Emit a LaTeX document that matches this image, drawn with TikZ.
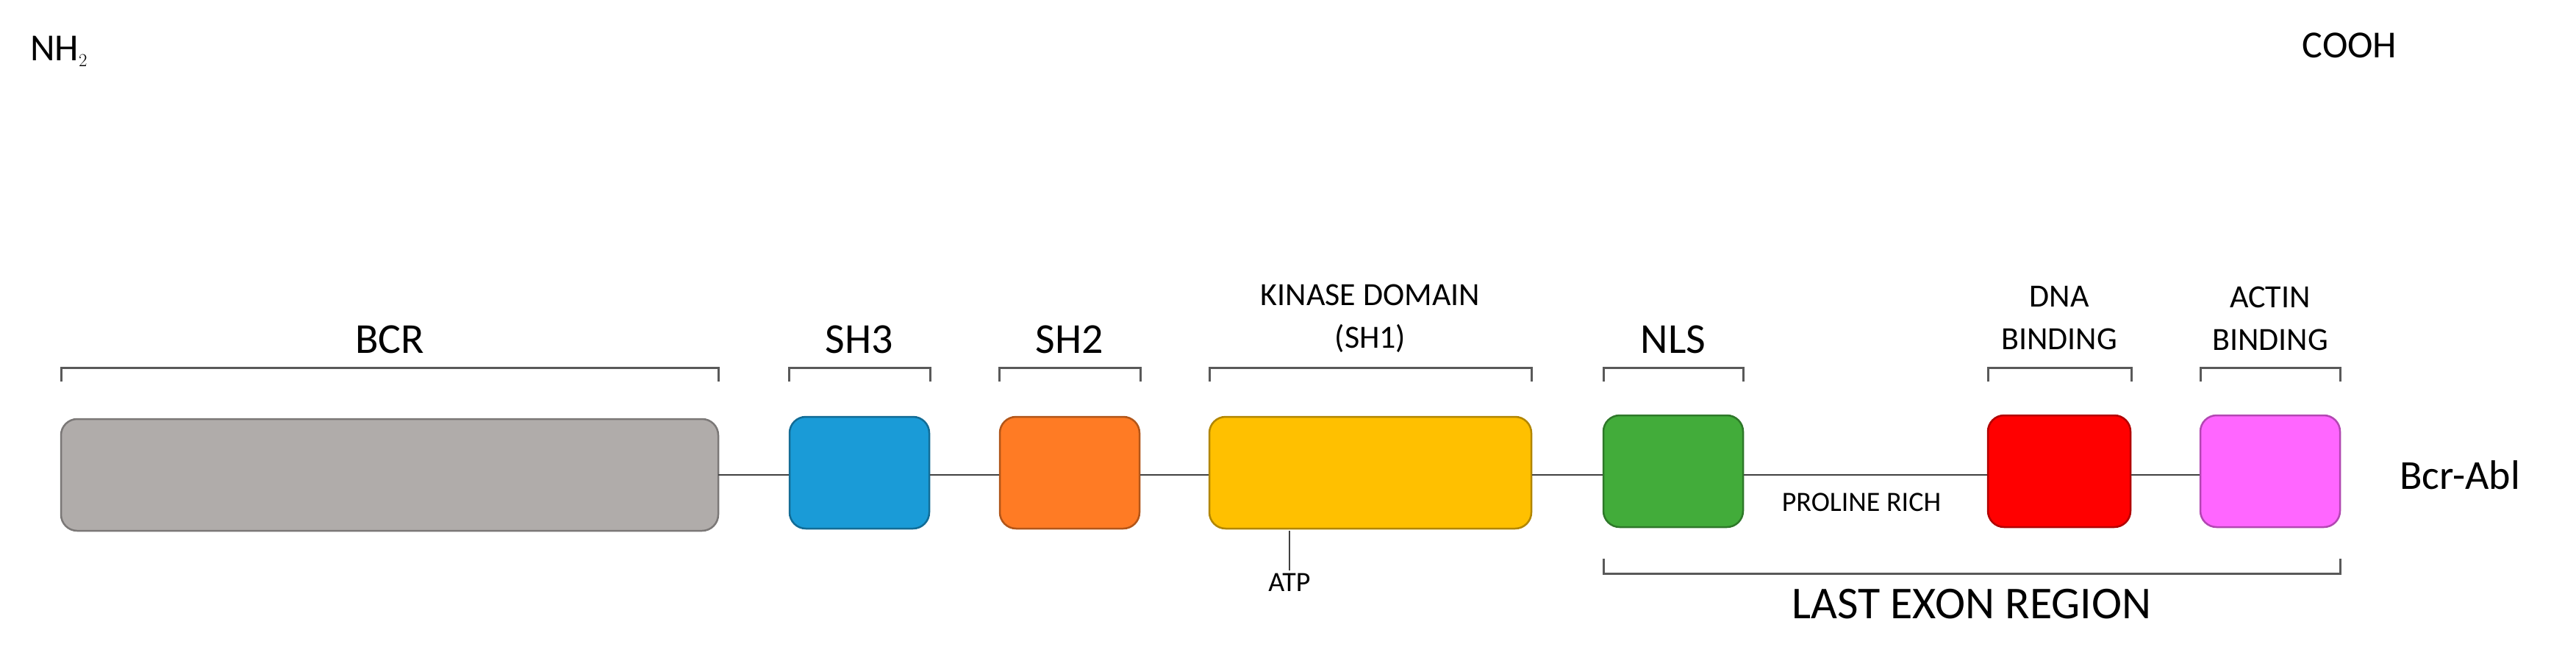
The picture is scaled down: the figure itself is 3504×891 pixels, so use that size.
\documentclass[tikz,border=0pt]{standalone}
\usepackage{fontspec}
\setmainfont{Carlito}
\begin{document}
\begin{tikzpicture}[x=1pt,y=-1pt,
  dom/.style={draw=#1!70!black,line width=2.5pt,rounded corners=22pt,fill=#1},
  link/.style={draw=black!75,line width=2.5pt},
  brk/.style={draw=black!65,line width=3pt},
  big/.style={font=\fontsize{58}{60}\selectfont},
  small/.style={font=\fontsize{44}{58}\selectfont,align=center},
  tiny/.style={font=\fontsize{38}{40}\selectfont}]
\definecolor{cbcr}{HTML}{B0ACAA}
\definecolor{csh3}{HTML}{1A9BD7}
\definecolor{csh2}{HTML}{FF7B24}
\definecolor{ckin}{HTML}{FFC000}
\definecolor{cnls}{HTML}{42AC3A}
\definecolor{cdna}{HTML}{FF0000}
\definecolor{cact}{HTML}{FF66FF}
\useasboundingbox (0,0) rectangle (3504,891);
\fill[white] (0,0) rectangle (3504,891);
% domains
\path[dom=cbcr] (83,570) rectangle (977,722); \coordinate (bcrR) at (977,646);
\node[minimum width=894pt,minimum height=152pt] (bcr) at (530,646) {};
\node[dom=csh3,minimum width=190pt,minimum height=152pt] (sh3) at (1169,643) {};
\node[dom=csh2,minimum width=190pt,minimum height=152pt] (sh2) at (1455,643) {};
\node[dom=ckin,minimum width=438pt,minimum height=152pt] (kin) at (1864,643) {};
\node[dom=cnls,minimum width=190pt,minimum height=152pt] (nls) at (2276,641) {};
\node[dom=cdna,minimum width=194pt,minimum height=152pt] (dna) at (2801,641) {};
\node[dom=cact,minimum width=190pt,minimum height=152pt] (act) at (3088,641) {};
% links
\draw[link] (bcrR) -- (sh3.west|-bcrR);
\draw[link] (sh3.east|-bcrR) -- (sh2.west|-bcrR);
\draw[link] (sh2.east|-bcrR) -- (kin.west|-bcrR);
\draw[link] (kin.east|-bcrR) -- (nls.west|-bcrR);
\draw[link] (nls.east|-bcrR) -- (dna.west|-bcrR);
\draw[link] (dna.east|-bcrR) -- (act.west|-bcrR);
% braces
\foreach \a/\b in {83/977,1073/1265,1359/1551,1645/2083,2181/2371,2704/2899,2993/3183}
  \draw[brk] (\a,519) -- (\a,500) -- (\b,500) -- (\b,519);
\draw[brk] (2181,760) -- (2181,780) -- (3183,780) -- (3183,760);
% labels
\node[big] (lbcr) at (530,462) {BCR};
\node[big] (lsh3) at (1169,462) {SH3};
\node[big] (lsh2) at (1455,462) {SH2};
\node[small] (lkin) at (1864,433) {KINASE DOMAIN\\(SH1)};
\node[big] (lnls) at (2276,462) {NLS};
\node[small] (ldna) at (2801,433) {DNA\\BINDING};
\node[small] (lact) at (3088,433) {ACTIN\\BINDING};
\node[tiny] (atp) at (1754,792) {ATP};
\coordinate (atpT) at (1754,722);
\draw[draw=black!75,line width=2.5pt] (atpT) -- (atp.north);
\node[tiny] (pro) at (2532,683) {PROLINE RICH};
\node[font=\fontsize{62}{64}\selectfont] (exon) at (2682,822) {LAST EXON REGION};
\node[font=\fontsize{56}{58}\selectfont] (bcrabl) at (3346,646) {Bcr-Abl};
\node[font=\fontsize{52}{54}\selectfont] (nh2) at (80,70) {NH$_2$};
\node[font=\fontsize{52}{54}\selectfont] (cooh) at (3196,62) {COOH};
\end{tikzpicture}
\end{document}
